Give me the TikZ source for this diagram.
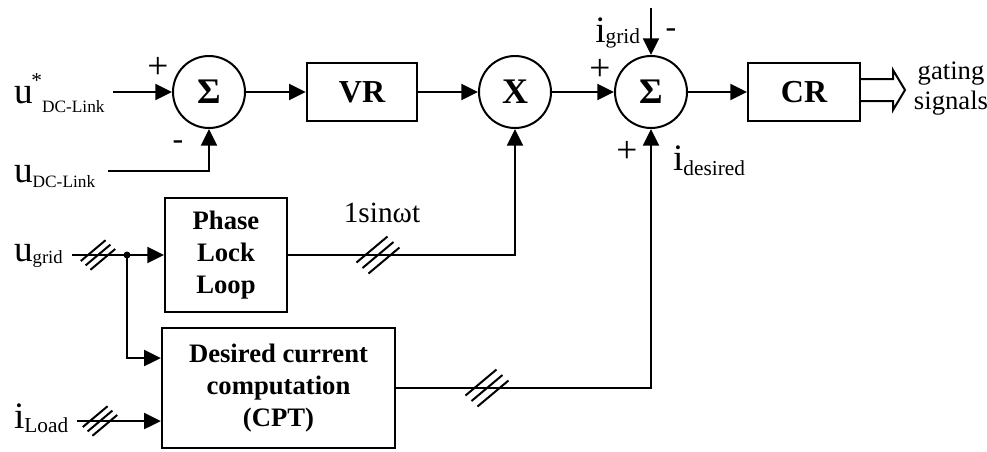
\documentclass[tikz,border=0pt]{standalone}
\usepackage{fontspec}
\setmainfont{Liberation Serif}
\usetikzlibrary{arrows.meta, calc}

\newcommand{\fsz}[1]{\fontsize{#1}{#1}\selectfont}

\begin{document}
\begin{tikzpicture}[x=0.75pt, y=-0.75pt, line width=1.5pt,
  sumnode/.style={circle, draw, inner sep=0pt, minimum size=54pt, font=\bfseries\fsz{27}},
  block/.style={rectangle, draw, align=center, inner sep=2pt,
                font=\bfseries\fontsize{20}{24}\selectfont},
  arr/.style={-{Triangle[length=12.5pt, width=12pt]}},
  sgn/.style={inner sep=0pt, font=\fsz{28}},
  lbl/.style={inner sep=0pt, anchor=base west},
  bus/.pic={\draw (-21.5,7.5) -- (9.5,-18.5);
            \draw (-15.5,13) -- (15.5,-13);
            \draw (-9.5,18.5) -- (21.5,-7.5);}]
  \useasboundingbox (0,0) rectangle (987,451);

  % main path
  \node[sumnode] (sumA) at (209,92) {Σ};
  \node[block, minimum width=83pt, minimum height=44pt, font=\bfseries\fsz{24}] (vr) at (362,92) {VR};
  \node[sumnode] (mult) at (515,92) {X};
  \node[sumnode] (sumB) at (651,92) {Σ};
  \node[block, minimum width=84pt, minimum height=44pt, font=\bfseries\fsz{24}] (cr) at (804,92) {CR};
  \node[block, minimum width=91.5pt, minimum height=85.5pt] (pll) at (226,255) {Phase\\Lock\\Loop};
  \node[block, minimum width=175pt, minimum height=90pt] (dcc) at (278.5,388)
       {Desired current\\computation\\(CPT)};

  % dc-link inputs
  \node[lbl] (urefl) at (13,103) {\fsz{28}u\kern-1pt\raisebox{12pt}{\fsz{16}*}\raisebox{-6.75pt}{\fsz{13}DC-Link}};
  \node[lbl] (udcl) at (13,182) {\fsz{28}u\raisebox{-3.75pt}{\fsz{13}DC-Link}};
  \coordinate (uref) at (113,92);
  \coordinate (udc) at (108,171);
  \draw[arr] (uref) -- (sumA);
  \draw[arr] (udc) -| (sumA);
  \node[sgn] (pA) at (158,68) {+};
  \node[sgn, font=\fsz{24}] (mA) at (178,145) {-};

  \draw[arr] (sumA) -- (vr);
  \draw[arr] (vr) -- (mult);
  \draw[arr] (mult) -- (sumB);
  \draw[arr] (sumB) -- (cr);

  % current summation
  \coordinate (igrid) at (651,8);
  \draw[arr] (igrid) -- (sumB);
  \node[lbl, anchor=base east] (igridl) at (641,42) {\fsz{28}i\raisebox{-1pt}{\fsz{16}grid}};
  \node[sgn, font=\fsz{24}] (mB) at (671,33) {-};
  \node[sgn] (pB) at (600,70) {+};
  \node[sgn] (pC) at (627,152) {+};
  \node[lbl] (idesl) at (672,170) {\fsz{28}i\raisebox{-3.75pt}{\fsz{16}desired}};

  % output
  \draw ($(cr.east)+(0,-13)$) -- ++(32,0) -- ++(0,-9) -- ++(12,20) -- ++(-12,20) -- ++(0,-9) -- ++(-32,0);
  \node[align=center, font=\fontsize{20}{22.5}\selectfont] (gate) at (951,89) {gating\\signals};

  % grid voltage and load current
  \node[lbl] (ugridl) at (13,261) {\fsz{28}u\raisebox{-2pt}{\fsz{14}grid}};
  \coordinate (ugrid) at (72,255);
  \coordinate (jn) at (127,255);
  \draw[arr] (ugrid) -- (pll);
  \pic[scale=0.8] at (98,255) {bus};
  \fill (jn) circle (3.5);
  \coordinate (dccA) at ($(dcc.west)+(0,-30)$);
  \coordinate (dccB) at ($(dcc.west)+(0,33)$);
  \draw[arr] (jn) |- (dccA);
  \node[lbl] (iloadl) at (13,428) {\fsz{28}i\raisebox{-3pt}{\fsz{16}Load}};
  \coordinate (iload) at (77,421);
  \draw[arr] (iload) -- (dccB);
  \pic[scale=0.8] at (100,421) {bus};

  % pll and reference current
  \draw[arr] (pll) -| (mult);
  \pic at (378,255) {bus};
  \node[font=\fsz{22}] (sinl) at (382,213) {1sinωt};
  \draw[arr] (dcc) -| (sumB);
  \pic at (487,388) {bus};
\end{tikzpicture}
\end{document}
